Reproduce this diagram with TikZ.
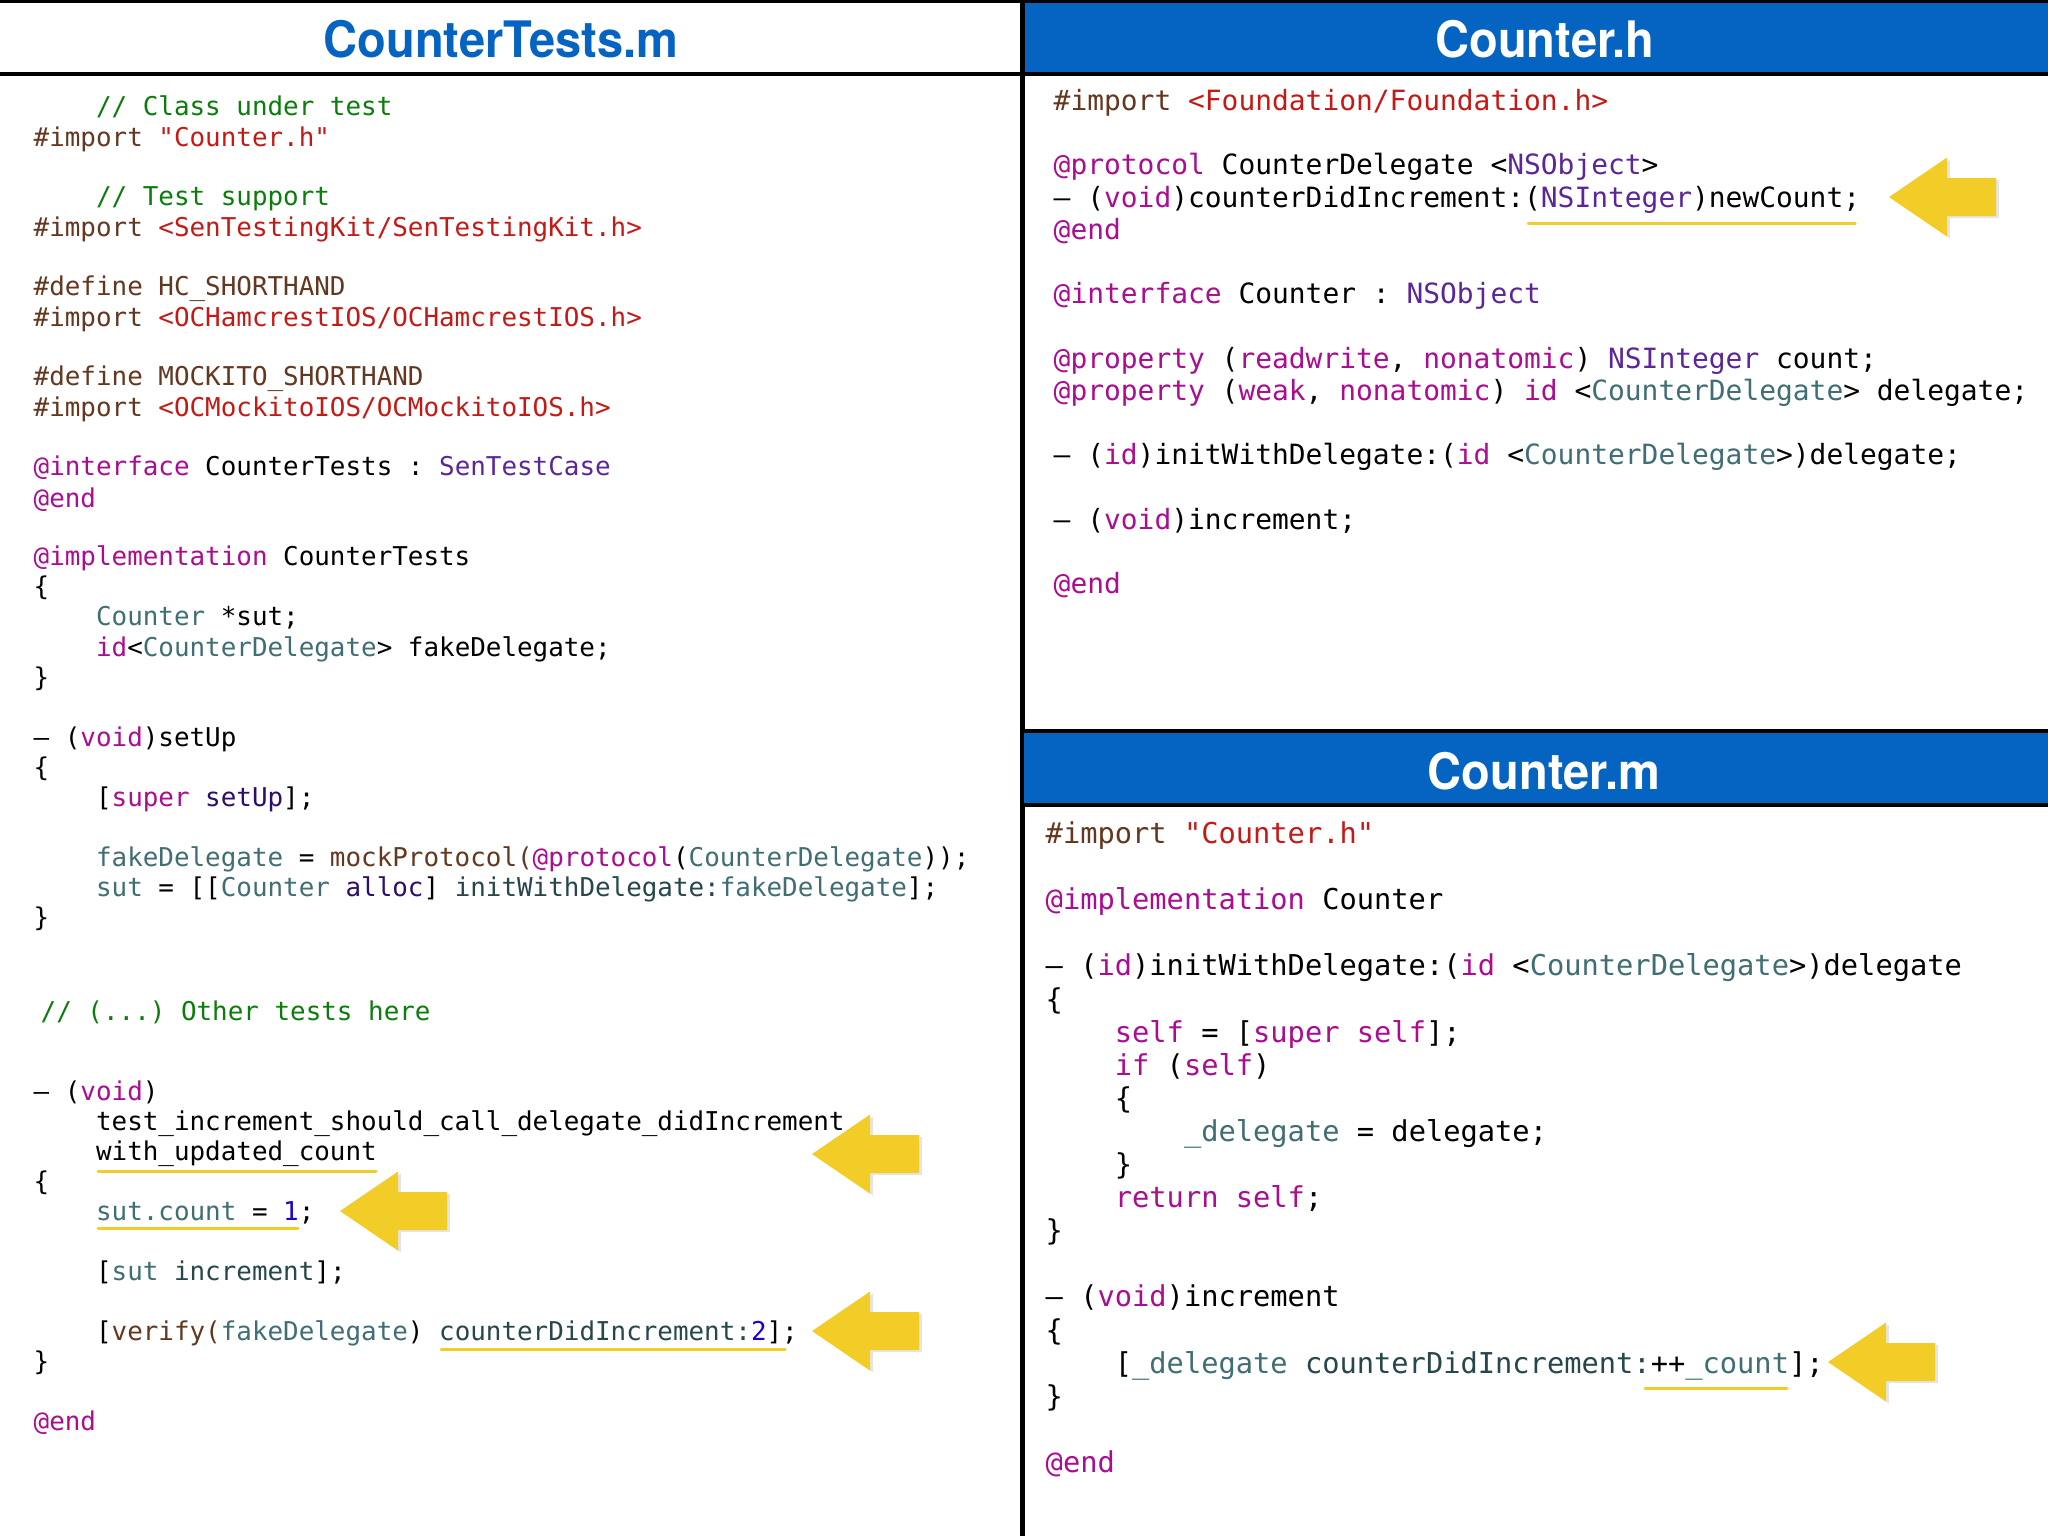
\documentclass[tikz,border=0pt]{standalone}
\usepackage{fontspec}
\setmonofont{DejaVu Sans Mono}
\newfontfamily\titlefont[FakeStretch=0.935]{TeX Gyre Heros}
\usepackage{tikz}

\definecolor{hdrblue}{RGB}{5,99,193}
\definecolor{kwcol}{RGB}{170,13,145}
\definecolor{strcol}{RGB}{196,26,22}
\definecolor{comcol}{RGB}{10,125,10}
\definecolor{precol}{RGB}{100,56,32}
\definecolor{clscol}{RGB}{63,110,116}
\definecolor{libcol}{RGB}{92,38,153}
\definecolor{lmcol}{RGB}{46,13,110}
\definecolor{pmcol}{RGB}{38,71,75}
\definecolor{numcol}{RGB}{28,0,207}
\definecolor{markyellow}{RGB}{242,205,40}

\newcommand{\cKw}[1]{\textcolor{kwcol}{#1}}
\newcommand{\cStr}[1]{\textcolor{strcol}{#1}}
\newcommand{\cCom}[1]{\textcolor{comcol}{#1}}
\newcommand{\cPre}[1]{\textcolor{precol}{#1}}
\newcommand{\cCls}[1]{\textcolor{clscol}{#1}}
\newcommand{\cLib}[1]{\textcolor{libcol}{#1}}
\newcommand{\cLm}[1]{\textcolor{lmcol}{#1}}
\newcommand{\cPm}[1]{\textcolor{pmcol}{#1}}
\newcommand{\cNum}[1]{\textcolor{numcol}{#1}}
\newcommand{\tb}{\phantom{0000}}
\newcommand{\mi}{\textendash}

\tikzset{
  code/.style={anchor=base west, inner sep=0pt},
  lcode/.style={code, font=\ttfamily\fontsize{7.37}{9}\selectfont},
  hcode/.style={code, font=\ttfamily\fontsize{7.94}{9}\selectfont},
  mcode/.style={code, font=\ttfamily\fontsize{8.17}{9}\selectfont},
  title/.style={anchor=base, inner sep=0pt, font=\titlefont\bfseries\fontsize{14.3}{16}\selectfont},
  underl/.style={draw=markyellow, line width=0.3mm, line cap=round},
  yarrow/.pic={
    \fill[black, opacity=0.1] (3,2) -- (61,-37.5) -- (61,-17) -- (110,-17) -- (110,21) -- (61,21) -- (61,41.5) -- cycle;
    \fill[markyellow] (0,0) -- (58,-39.5) -- (58,-19) -- (107,-19) -- (107,19) -- (58,19) -- (58,39.5) -- cycle;
  }
}

\begin{document}
\begin{tikzpicture}[x=0.1mm, y=-0.1mm]
  \useasboundingbox (0,0) rectangle (2048,1536);
  \fill[white] (0,0) rectangle (2048,1536);

  \fill[hdrblue] (1024,0) rectangle (2048,74);
  \draw[line width=0.3mm] (0,1) -- (2048,1);
  \draw[line width=0.4mm] (0,74) -- (2048,74);
  \draw[line width=0.45mm] (1022.5,0) -- (1022.5,1536);
  \filldraw[fill=hdrblue, line width=0.4mm] (1022,731) rectangle (2052,805);

  \node[title, text=hdrblue] (testsTitle) at (501,57) {CounterTests.m};
  \node[title, text=white] (hTitle) at (1545,57) {Counter.h};
  \node[title, text=white] (mTitle) at (1544,789) {Counter.m};

  \node[lcode] (t1) at (33,115) {\tb\cCom{// Class under test}};
  \node[lcode] (t2) at (33,146) {\cPre{\#import} \cStr{"Counter.h"}};
  \node[lcode] (t3) at (33,205) {\tb\cCom{// Test support}};
  \node[lcode] (t4) at (33,236) {\cPre{\#import} \cStr{<SenTestingKit/SenTestingKit.h>}};
  \node[lcode] (t5) at (33,295) {\cPre{\#define HC\_SHORTHAND}};
  \node[lcode] (t6) at (33,326) {\cPre{\#import} \cStr{<OCHamcrestIOS/OCHamcrestIOS.h>}};
  \node[lcode] (t7) at (33,385) {\cPre{\#define MOCKITO\_SHORTHAND}};
  \node[lcode] (t8) at (33,416) {\cPre{\#import} \cStr{<OCMockitoIOS/OCMockitoIOS.h>}};
  \node[lcode] (t9) at (33,475) {\cKw{@interface} CounterTests : \cLib{SenTestCase}};
  \node[lcode] (t10) at (33,507) {\cKw{@end}};
  \node[lcode] (t11) at (33,565) {\cKw{@implementation} CounterTests};
  \node[lcode] (t12) at (33,595) {\{};
  \node[lcode] (t13) at (33,625) {\tb\cCls{Counter} *sut;};
  \node[lcode] (t14) at (33,656) {\tb\cKw{id}<\cCls{CounterDelegate}> fakeDelegate;};
  \node[lcode] (t15) at (33,686) {\}};
  \node[lcode] (t16) at (33,746) {\mi{} (\cKw{void})setUp};
  \node[lcode] (t17) at (33,776) {\{};
  \node[lcode] (t18) at (33,806) {\tb[\cKw{super} \cLm{setUp}];};
  \node[lcode] (t19) at (33,866) {\tb\cCls{fakeDelegate} = \cPre{mockProtocol(}\cKw{@protocol}(\cCls{CounterDelegate}));};
  \node[lcode] (t20) at (33,896) {\tb\cCls{sut} = [[\cCls{Counter} \cLm{alloc}] \cPm{initWithDelegate:}\cCls{fakeDelegate}];};
  \node[lcode] (t21) at (33,926) {\}};
  \node[lcode] (t22) at (40,1020) {\cCom{// (...) Other tests here}};
  \node[lcode] (t23) at (33,1100) {\mi{} (\cKw{void})};
  \node[lcode] (t24) at (33,1130) {\tb test\_increment\_should\_call\_delegate\_didIncrement};
  \node[lcode] (t25) at (33,1160) {\tb with\_updated\_count};
  \node[lcode] (t26) at (33,1190) {\{};
  \node[lcode] (t27) at (33,1220) {\tb\cCls{sut.count} = \cNum{1};};
  \node[lcode] (t28) at (33,1280) {\tb[\cCls{sut} \cPm{increment}];};
  \node[lcode] (t29) at (33,1340) {\tb[\cPre{verify(}\cCls{fakeDelegate}) \cPm{counterDidIncrement:}\cNum{2}];};
  \node[lcode] (t30) at (33,1370) {\}};
  \node[lcode] (t31) at (33,1430) {\cKw{@end}};

  \node[hcode] (h1) at (1053,110) {\cPre{\#import} \cStr{<Foundation/Foundation.h>}};
  \node[hcode] (h2) at (1053,174) {\cKw{@protocol} CounterDelegate <\cLib{NSObject}>};
  \node[hcode] (h3) at (1053,207) {\mi{} (\cKw{void})counterDidIncrement:(\cLib{NSInteger})newCount;};
  \node[hcode] (h4) at (1053,239) {\cKw{@end}};
  \node[hcode] (h5) at (1053,303) {\cKw{@interface} Counter : \cLib{NSObject}};
  \node[hcode] (h6) at (1053,368) {\cKw{@property} (\cKw{readwrite}, \cKw{nonatomic}) \cLib{NSInteger} count;};
  \node[hcode] (h7) at (1053,400) {\cKw{@property} (\cKw{weak}, \cKw{nonatomic}) \cKw{id} <\cCls{CounterDelegate}> delegate;};
  \node[hcode] (h8) at (1053,464) {\mi{} (\cKw{id})initWithDelegate:(\cKw{id} <\cCls{CounterDelegate}>)delegate;};
  \node[hcode] (h9) at (1053,529) {\mi{} (\cKw{void})increment;};
  \node[hcode] (h10) at (1053,593) {\cKw{@end}};

  \node[mcode] (m1) at (1045,843) {\cPre{\#import} \cStr{"Counter.h"}};
  \node[mcode] (m2) at (1045,909) {\cKw{@implementation} Counter};
  \node[mcode] (m3) at (1045,975) {\mi{} (\cKw{id})initWithDelegate:(\cKw{id} <\cCls{CounterDelegate}>)delegate};
  \node[mcode] (m4) at (1045,1009) {\{};
  \node[mcode] (m5) at (1045,1042) {\tb\cKw{self} = [\cKw{super} \cKw{self}];};
  \node[mcode] (m6) at (1045,1075) {\tb\cKw{if} (\cKw{self})};
  \node[mcode] (m7) at (1045,1108) {\tb\{};
  \node[mcode] (m8) at (1045,1141) {\tb\tb\cCls{\_delegate} = delegate;};
  \node[mcode] (m9) at (1045,1174) {\tb\}};
  \node[mcode] (m10) at (1045,1207) {\tb\cKw{return} \cKw{self};};
  \node[mcode] (m11) at (1045,1240) {\}};
  \node[mcode] (m12) at (1045,1306) {\mi{} (\cKw{void})increment};
  \node[mcode] (m13) at (1045,1340) {\{};
  \node[mcode] (m14) at (1045,1373) {\tb[\cCls{\_delegate} \cPm{counterDidIncrement:}++\cCls{\_count}];};
  \node[mcode] (m15) at (1045,1406) {\}};
  \node[mcode] (m16) at (1045,1472) {\cKw{@end}};

  \draw[underl] (98,1171) -- (376,1171);
  \draw[underl] (98,1228) -- (298,1228);
  \draw[underl] (441,1349) -- (785,1349);
  \draw[underl] (1528,223) -- (1855,223);
  \draw[underl] (1645,1388) -- (1787,1388);

  \pic at (812,1154) {yarrow};
  \pic at (340,1211) {yarrow};
  \pic at (812,1331) {yarrow};
  \pic at (1889,197) {yarrow};
  \pic at (1828,1362) {yarrow};
\end{tikzpicture}
\end{document}
